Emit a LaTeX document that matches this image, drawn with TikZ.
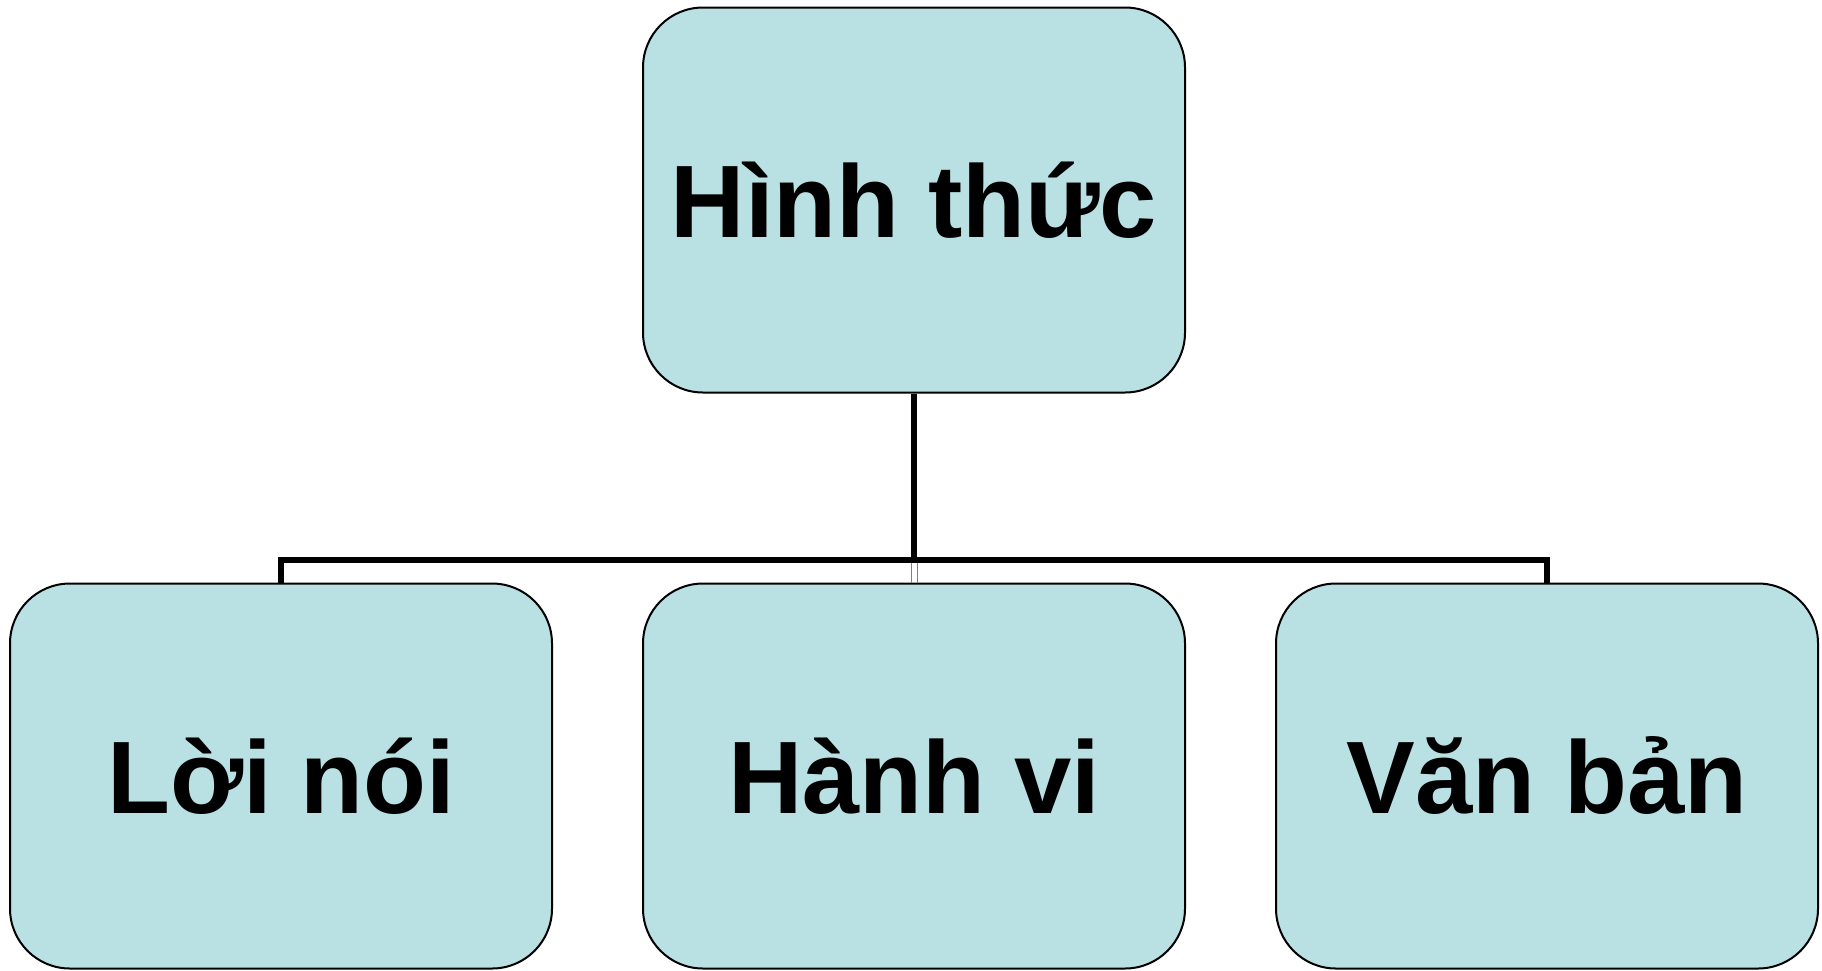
\documentclass[tikz,border=0pt]{standalone}
\usepackage{fontspec}
\setmainfont{Liberation Sans}
\usetikzlibrary{calc}
\definecolor{boxfill}{RGB}{185,224,227}
\begin{document}
\begin{tikzpicture}[x=1pt,y=-1pt,
  card/.style={draw=black, line width=2pt, fill=boxfill, rounded corners=60pt,
    minimum width=542pt, minimum height=385pt, inner sep=0pt,
    font=\bfseries\fontsize{103}{108}\selectfont, text height=74pt, text depth=0pt},
  link/.style={draw=black, line width=6pt}]
\useasboundingbox (0,0) rectangle (1822,970);

\node[card] (top) at (914,200) {Hình thức};
\node[card] (loi) at (281,776) {Lời nói};
\node[card] (hanh) at (914,776) {Hành vi};
\node[card] (van) at (1547,776) {Văn bản};

% tree connectors
\coordinate (bar) at ($(loi.north)+(0,-23)$);
\draw[link] (top.south) -- (top.south |- bar);
\draw[link, line join=miter] (loi.north) -- (bar) -| (van.north);
\draw[gray, line width=0.6pt]
  ($(hanh.north)+(-3,0)$) -- ++(0,-20)
  ($(hanh.north)+(3,0)$) -- ++(0,-20);
\end{tikzpicture}
\end{document}
